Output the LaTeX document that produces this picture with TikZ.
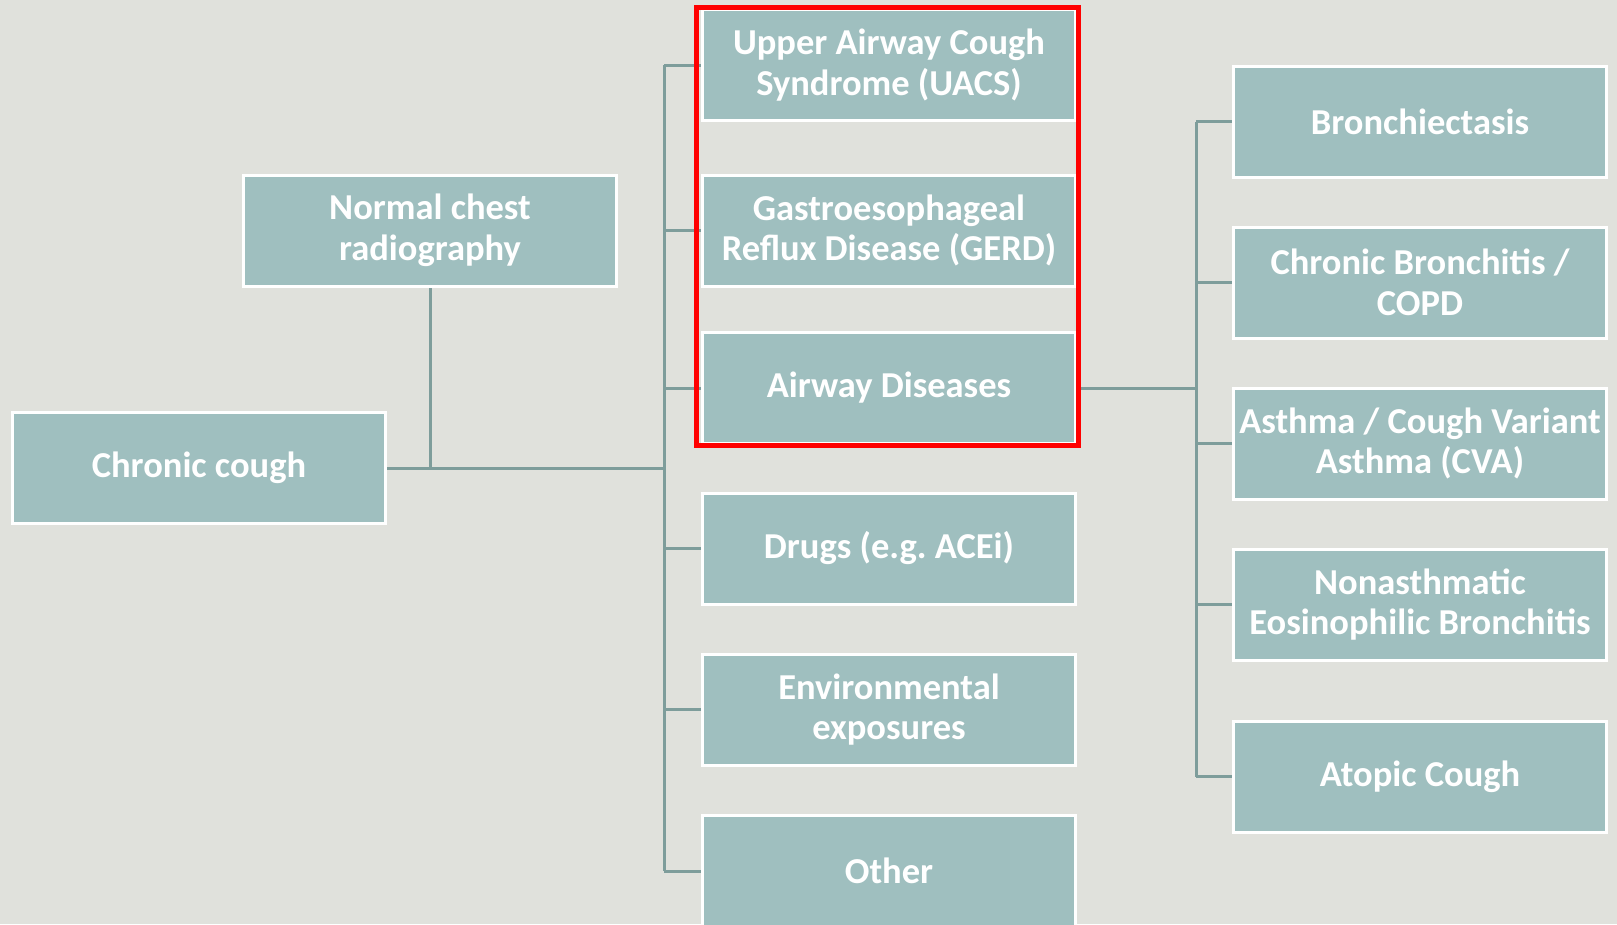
\documentclass[tikz,border=0pt]{standalone}
\usepackage{fontspec}
\setmainfont{Carlito}
\frenchspacing
\definecolor{bgc}{HTML}{E0E1DC}
\definecolor{boxc}{HTML}{9FBFBF}
\definecolor{linec}{HTML}{7E9D9B}
\definecolor{redc}{HTML}{FF0000}
\tikzset{
  box/.style={draw=white, line width=3pt, fill=boxc, text=white,
    minimum width=373pt, minimum height=111pt, inner sep=0pt,
    align=center,
    font=\bfseries\fontsize{36.5}{40.5}\selectfont},
  conn/.style={draw=linec, line width=3pt}
}
\begin{document}
\begin{tikzpicture}[x=1pt,y=-1pt]
\useasboundingbox (0,0) rectangle (1617,924);
\clip (0,0) rectangle (1617,924);
\fill[bgc] (0,0) rectangle (1617,924);
% coordinates for trunks
\coordinate (tl1) at (664,65);
\coordinate (tl2) at (664,871);
\coordinate (tr1) at (1196,121.5);
\coordinate (tr2) at (1196,776.5);
% nodes
\node[box] (cc) at (199,468) {Chronic cough};
\node[box] (nc) at (430,230.5) {Normal chest\\radiography};
\node[box] (uacs) at (889,65) {Upper Airway Cough\\Syndrome (UACS)};
\node[box] (gerd) at (889,230.5) {Gastroesophageal\\Reflux Disease (GERD)};
\node[box] (aw) at (889,388) {Airway Diseases};
\node[box] (dr) at (889,548.5) {Drugs (e.g. ACEi)};
\node[box] (env) at (889,709.5) {Environmental\\exposures};
\node[box] (oth) at (889,871) {Other};
\node[box] (br) at (1420,121.5) {Bronchiectasis};
\node[box] (cb) at (1420,282.5) {Chronic Bronchitis /\\COPD};
\node[box] (as) at (1420,443.5) {Asthma / Cough Variant\\Asthma (CVA)};
\node[box] (na) at (1420,604.5) {Nonasthmatic\\Eosinophilic Bronchitis};
\node[box] (at) at (1420,776.5) {Atopic Cough};
% connectors
\draw[conn] (tl1) -- (tl2);
\draw[conn] (cc.east) -- (cc.east -| tl1);
\draw[conn] (nc.south) -- (nc.south |- cc.east);
\foreach \n in {uacs,gerd,aw,dr,env,oth}{
  \draw[conn] (\n.west -| tl1) -- (\n.west);
}
\draw[conn] (tr1) -- (tr2);
\draw[conn] (aw.east) -- (aw.east -| tr1);
\foreach \n in {br,cb,as,na,at}{
  \draw[conn] (\n.west -| tr1) -- (\n.west);
}
% redraw boxes on top of connectors
\node[box] at (cc) {Chronic cough};
\node[box] at (nc) {Normal chest\\radiography};
\node[box] at (uacs) {Upper Airway Cough\\Syndrome (UACS)};
\node[box] at (gerd) {Gastroesophageal\\Reflux Disease (GERD)};
\node[box] at (aw) {Airway Diseases};
\node[box] at (dr) {Drugs (e.g. ACEi)};
\node[box] at (env) {Environmental\\exposures};
\node[box] at (oth) {Other};
\node[box] at (br) {Bronchiectasis};
\node[box] at (cb) {Chronic Bronchitis /\\COPD};
\node[box] at (as) {Asthma / Cough Variant\\Asthma (CVA)};
\node[box] at (na) {Nonasthmatic\\Eosinophilic Bronchitis};
\node[box] at (at) {Atopic Cough};
% red highlight
\draw[redc, line width=5pt] (696.5,7) rectangle (1078.5,445.5);
\end{tikzpicture}
\end{document}
